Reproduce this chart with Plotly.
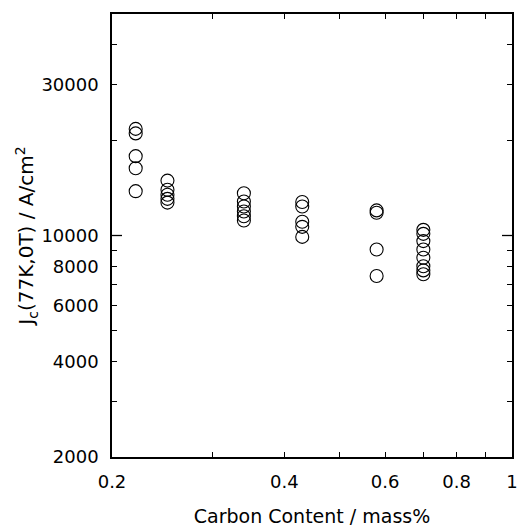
import plotly.graph_objects as go

# Carbon content (mass%) per column of samples
carbon = [0.22]*5 + [0.25]*5 + [0.34]*6 + [0.43]*5 + [0.58]*4 + [0.70]*8
# Jc(77K,0T) in A/cm^2
jc = [21700, 21000, 17800, 16300, 13800,
      14900, 13950, 13450, 13050, 12700,
      13600, 12800, 12350, 11900, 11500, 11150,
      12750, 12350, 11050, 10650, 9900,
      12000, 11800, 9030, 7450,
      10420, 10120, 9600, 9030, 8510, 8000, 7760, 7550]

x_tickvals = [0.2, 0.4, 0.6, 0.8, 1]
x_ticktext = ["0.2", "0.4", "0.6", "0.8", "1"]
x_minor = [0.3, 0.5, 0.7, 0.9]
y_tickvals = [2000, 4000, 6000, 8000, 10000, 30000]
y_ticktext = ["2000", "4000", "6000", "8000", "10000", "30000"]
y_minor = [3000, 5000, 7000, 9000, 20000, 40000]

FONT = "DejaVu Sans"

fig = go.Figure()
fig.add_trace(go.Scatter(
    x=carbon, y=jc, mode="markers",
    marker=dict(symbol="circle-open", size=13, color="black", line=dict(width=1.1)),
    showlegend=False,
))

axis_common = dict(
    showgrid=False, zeroline=False, showline=True, linecolor="black", linewidth=1.5,
    mirror="allticks", ticks="inside", ticklen=5, tickwidth=1.3, tickcolor="black",
    tickfont=dict(family=FONT, size=18, color="black"), automargin=False,
)

fig.update_xaxes(
    type="log", range=[-0.69897, 0], tickvals=x_tickvals, ticktext=x_ticktext,
    minor=dict(tickvals=x_minor, ticks="inside", ticklen=5, tickwidth=1.3, tickcolor="black"),
    title=dict(text="Carbon Content / mass%", font=dict(family=FONT, size=19, color="black"), standoff=19),
    ticklabelstandoff=8,
    **axis_common,
)
fig.update_yaxes(
    type="log", range=[3.30103, 4.69897], tickvals=y_tickvals, ticktext=y_ticktext,
    minor=dict(tickvals=y_minor, ticks="inside", ticklen=5, tickwidth=1.3, tickcolor="black"),
    title=dict(text="J<sub>c</sub>(77K,0T) / A/cm<sup>2</sup>", font=dict(family=FONT, size=20, color="black"), standoff=2),
    ticklabelstandoff=8,
    **axis_common,
)

# longer tick at 10000 on both sides
for x0, x1 in [(0, 0.025), (0.975, 1)]:
    fig.add_shape(type="line", xref="x domain", yref="y", x0=x0, x1=x1, y0=10000, y1=10000,
                  line=dict(color="black", width=1.3))

fig.update_layout(
    width=518, height=527,
    margin=dict(l=112, r=6, t=14, b=70),
    paper_bgcolor="white", plot_bgcolor="white",
)

fig.write_html("out.html")
